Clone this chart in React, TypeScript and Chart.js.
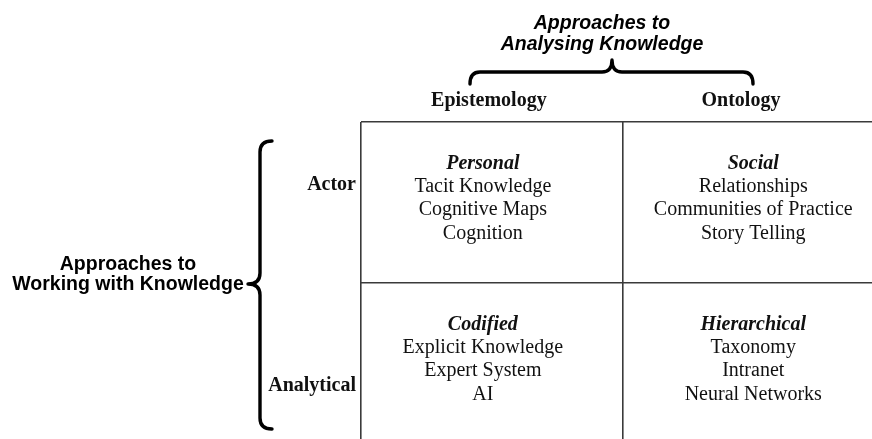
import React, { useEffect, useRef } from "react";
import { Chart, registerables } from "chart.js";

Chart.register(...registerables);

// ---- data ----
const columns = ["Epistemology", "Ontology"];
const rows = ["Actor", "Analytical"];
const cellTitles = [
  ["Personal", "Social"],
  ["Codified", "Hierarchical"],
];
const cellItems = [
  [
    ["Tacit Knowledge", "Cognitive Maps", "Cognition"],
    ["Relationships", "Communities of Practice", "Story Telling"],
  ],
  [
    ["Explicit Knowledge", "Expert System", "AI"],
    ["Taxonomy", "Intranet", "Neural Networks"],
  ],
];
const topTitle = ["Approaches to", "Analysing Knowledge"];
const leftTitle = ["Approaches to", "Working with Knowledge"];

const SERIF = "'Liberation Serif', 'Times New Roman', serif";
const SANS = "'Liberation Sans', Arial, sans-serif";

const matrixPlugin = {
  id: "matrixText",
  afterDraw(chart: any) {
    const ctx = chart.ctx as CanvasRenderingContext2D;
    const xs = chart.scales.x;
    const ys = chart.scales.y;
    const area = chart.chartArea;
    ctx.save();
    ctx.fillStyle = "#111";
    ctx.textBaseline = "alphabetic";

    // column headers
    const headerX = [0.489, 1.453];
    ctx.font = `bold 20px ${SERIF}`;
    ctx.textAlign = "center";
    columns.forEach((c, i) => {
      ctx.fillText(c, xs.getPixelForValue(headerX[i]), ys.getPixelForValue(-0.1));
    });

    // row labels
    const rowY = [0.422, 1.668];
    ctx.textAlign = "right";
    rows.forEach((r, i) => {
      ctx.fillText(r, area.left - 5, ys.getPixelForValue(rowY[i]));
    });

    // cells
    const colCenter = [0.466, 1.5];
    ctx.textAlign = "center";
    for (let r = 0; r < 2; r++) {
      for (let c = 0; c < 2; c++) {
        const cx = xs.getPixelForValue(colCenter[c]);
        ctx.font = `italic bold 20px ${SERIF}`;
        ctx.fillText(cellTitles[r][c], cx, ys.getPixelForValue(r + 0.289));
        ctx.font = `20px ${SERIF}`;
        cellItems[r][c].forEach((t, k) => {
          ctx.fillText(t, cx, ys.getPixelForValue(r + 0.289 + 0.145 * (k + 1)));
        });
      }
    }

    // titles
    ctx.fillStyle = "#000";
    ctx.font = `italic bold 19.5px ${SANS}`;
    ctx.textAlign = "center";
    ctx.fillText(topTitle[0], 602, 29);
    ctx.fillText(topTitle[1], 602, 50);
    ctx.font = `bold 19.5px ${SANS}`;
    ctx.fillText(leftTitle[0], 128, 270);
    ctx.fillText(leftTitle[1], 128, 290);

    // braces
    ctx.strokeStyle = "#000";
    ctx.lineWidth = 3.4;
    ctx.lineCap = "round";
    ctx.lineJoin = "round";
    // top brace (horizontal)
    {
      const x0 = 470, x1 = 753, xm = 612, yEnd = 84, yArm = 72, yTip = 60, r = 10;
      ctx.beginPath();
      ctx.moveTo(x0, yEnd);
      ctx.quadraticCurveTo(x0, yArm, x0 + r, yArm);
      ctx.lineTo(xm - r, yArm);
      ctx.quadraticCurveTo(xm, yArm, xm, yTip);
      ctx.quadraticCurveTo(xm, yArm, xm + r, yArm);
      ctx.lineTo(x1 - r, yArm);
      ctx.quadraticCurveTo(x1, yArm, x1, yEnd);
      ctx.stroke();
    }
    // left brace (vertical)
    {
      const y0 = 141, y1 = 429, ym = 284, xEnd = 272, xArm = 260, xTip = 248, r = 11;
      ctx.beginPath();
      ctx.moveTo(xEnd, y0);
      ctx.quadraticCurveTo(xArm, y0, xArm, y0 + r);
      ctx.lineTo(xArm, ym - r);
      ctx.quadraticCurveTo(xArm, ym, xTip, ym);
      ctx.quadraticCurveTo(xArm, ym, xArm, ym + r);
      ctx.lineTo(xArm, y1 - r);
      ctx.quadraticCurveTo(xArm, y1, xEnd, y1);
      ctx.stroke();
    }
    ctx.restore();
  },
};

export default function App() {
  const ref = useRef<HTMLCanvasElement | null>(null);
  useEffect(() => {
    document.body.style.margin = "0";
    const cells: { x: number; y: number }[] = [];
    rows.forEach((_, r) => columns.forEach((_, c) => cells.push({ x: c + 0.5, y: r + 0.5 })));
    const gridOpts = {
      color: "#3a3a3a",
      lineWidth: 1.6,
      drawTicks: false,
      tickLength: 0,
    };
    const chart = new Chart(ref.current!, {
      type: "scatter",
      data: {
        datasets: [
          {
            data: cells,
            pointRadius: 0,
            pointHoverRadius: 0,
          },
        ],
      },
      options: {
        animation: false,
        responsive: false,
        events: [],
        layout: { padding: { left: 361, top: 122, right: 0, bottom: 0 } },
        plugins: { legend: { display: false }, tooltip: { enabled: false } },
        scales: {
          x: {
            type: "linear",
            min: 0,
            max: 511 / 261.5,
            grid: gridOpts,
            border: { display: false },
            ticks: { display: false },
            afterBuildTicks: (axis: any) => {
              axis.ticks = [{ value: 0 }, { value: 1 }];
            },
            afterFit: (axis: any) => {
              axis.height = 0;
            },
          },
          y: {
            type: "linear",
            reverse: true,
            min: 0,
            max: 317 / 161,
            grid: gridOpts,
            border: { display: false },
            ticks: { display: false },
            afterBuildTicks: (axis: any) => {
              axis.ticks = [{ value: 0 }, { value: 1 }];
            },
            afterFit: (axis: any) => {
              axis.width = 0;
            },
          },
        },
      },
      plugins: [matrixPlugin],
    } as any);
    return () => chart.destroy();
  }, []);
  return (
    <div style={{ width: 872, height: 439, background: "#fff" }}>
      <canvas ref={ref} width={872} height={439} style={{ display: "block" }} />
    </div>
  );
}
